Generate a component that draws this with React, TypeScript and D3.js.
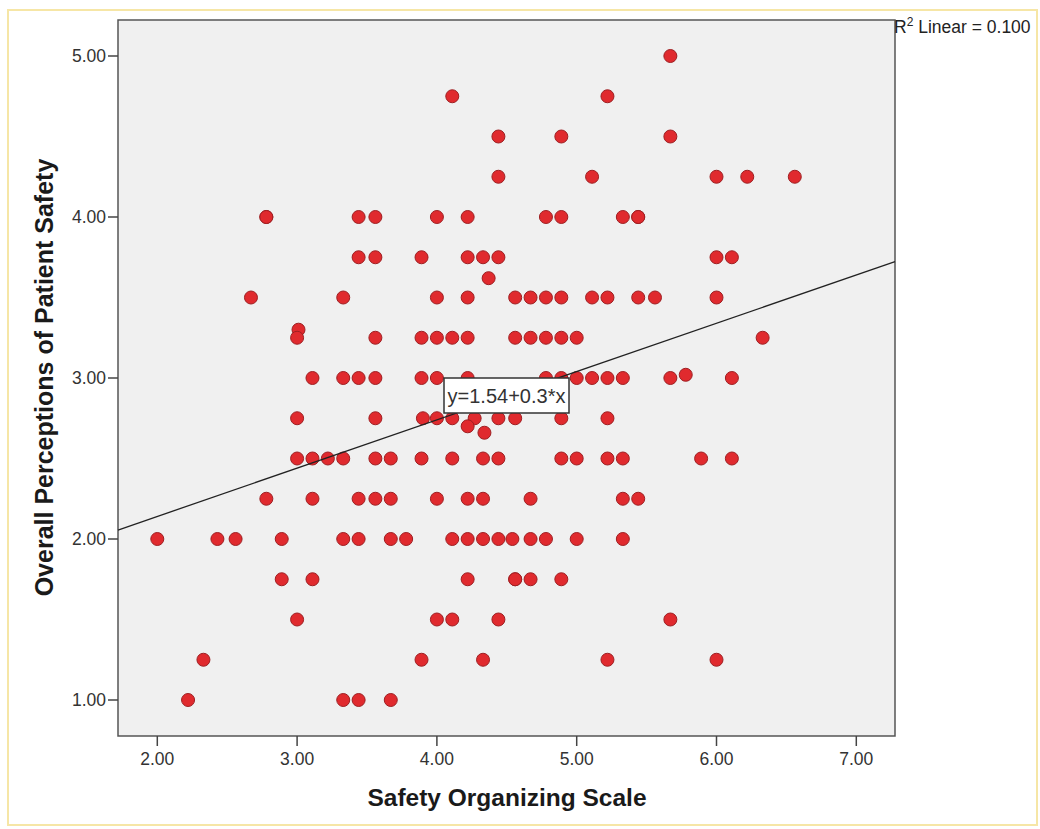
import React from "react";
import * as d3 from "d3";

// Rows of the scatter: y level and the x values observed at that level
const yLevels = [5.0, 4.75, 4.5, 4.25, 4.0, 3.75, 3.62, 3.5, 3.3, 3.25, 3.02, 3.0, 2.75, 2.7, 2.66, 2.5, 2.25, 2.0, 1.75, 1.5, 1.25, 1.0];
const xAt500 = [5.67];
const xAt475 = [4.11, 5.22];
const xAt450 = [4.44, 4.89, 5.67];
const xAt425 = [4.44, 5.11, 6.0, 6.22, 6.56];
const xAt400 = [2.78, 2.78, 3.44, 3.56, 4.0, 4.22, 4.78, 4.89, 5.33, 5.44, 5.44];
const xAt375 = [3.44, 3.56, 3.89, 4.22, 4.33, 4.44, 6.0, 6.11];
const xAt362 = [4.37];
const xAt350 = [2.67, 3.33, 4.0, 4.22, 4.56, 4.67, 4.78, 4.89, 5.11, 5.22, 5.44, 5.56, 6.0];
const xAt330 = [3.01];
const xAt325 = [3.0, 3.56, 3.89, 4.0, 4.11, 4.22, 4.56, 4.67, 4.78, 4.89, 5.0, 6.33];
const xAt302 = [5.78];
const xAt300 = [3.11, 3.33, 3.44, 3.56, 3.89, 4.0, 4.22, 4.78, 4.89, 5.0, 5.11, 5.22, 5.33, 5.67, 6.11];
const xAt275 = [3.0, 3.56, 3.9, 4.0, 4.11, 4.27, 4.44, 4.56, 4.89, 5.22];
const xAt270 = [4.22];
const xAt266 = [4.34];
const xAt250 = [3.0, 3.11, 3.22, 3.33, 3.56, 3.67, 3.89, 4.11, 4.33, 4.44, 4.89, 5.0, 5.22, 5.33, 5.89, 6.11];
const xAt225 = [2.78, 3.11, 3.44, 3.56, 3.67, 4.0, 4.22, 4.33, 4.67, 5.33, 5.44];
const xAt200 = [2.0, 2.43, 2.56, 2.89, 3.33, 3.44, 3.67, 3.78, 4.11, 4.22, 4.33, 4.44, 4.54, 4.67, 4.78, 5.0, 5.33];
const xAt175 = [2.89, 3.11, 4.22, 4.56, 4.56, 4.67, 4.89];
const xAt150 = [3.0, 4.0, 4.11, 4.44, 5.67];
const xAt125 = [2.33, 3.89, 4.33, 5.22, 6.0];
const xAt100 = [2.22, 3.33, 3.44, 3.67];
const rows = [xAt500, xAt475, xAt450, xAt425, xAt400, xAt375, xAt362, xAt350, xAt330, xAt325, xAt302, xAt300, xAt275, xAt270, xAt266, xAt250, xAt225, xAt200, xAt175, xAt150, xAt125, xAt100];

const xTicks = [2, 3, 4, 5, 6, 7];
const yTicks = [1, 2, 3, 4, 5];
const intercept = 1.54;
const slope = 0.3;
const equationLabel = "y=1.54+0.3*x";
const fitLabel = " Linear = 0.100";
const xTitle = "Safety Organizing Scale";
const yTitle = "Overall Perceptions of Patient Safety";

const W = 1040;
const H = 829;
const plotL = 118;
const plotR = 895;
const plotT = 20;
const plotB = 736;

export default function App() {
  const x = d3.scaleLinear().domain([2, 7]).range([157.3, 856.3]);
  const y = d3.scaleLinear().domain([1, 5]).range([700, 56]);
  const points = rows.flatMap((xs, i) => xs.map((v) => ({ x: v, y: yLevels[i] })));
  const x0 = x.invert(plotL);
  const x1 = x.invert(plotR);
  const line = d3.line<number>().x((v) => x(v)).y((v) => y(intercept + slope * v));
  const font = "'Liberation Sans', Arial, sans-serif";

  return (
    <svg width={W} height={H} style={{ position: "absolute", left: 0, top: 0, background: "#fff" }} fontFamily={font}>
      <rect x={8} y={10} width={1029} height={815} fill="#fff" stroke="#F6E6A6" strokeWidth={2} />
      <rect x={plotL} y={plotT} width={plotR - plotL} height={plotB - plotT} fill="#F0F0F0" stroke="#555" strokeWidth={1.5} />
      {yTicks.map((t) => (
        <g key={"y" + t}>
          <line x1={plotL - 10} x2={plotL} y1={y(t)} y2={y(t)} stroke="#444" strokeWidth={1.5} />
          <text x={plotL - 12} y={y(t)} dy="0.35em" textAnchor="end" fontSize={17.5} fill="#333">
            {t.toFixed(2)}
          </text>
        </g>
      ))}
      {xTicks.map((t) => (
        <g key={"x" + t}>
          <line x1={x(t)} x2={x(t)} y1={plotB} y2={plotB + 10} stroke="#444" strokeWidth={1.5} />
          <text x={x(t)} y={765} textAnchor="middle" fontSize={17.5} fill="#333">
            {t.toFixed(2)}
          </text>
        </g>
      ))}
      {points.map((p, i) => (
        <circle key={i} cx={x(p.x)} cy={y(p.y)} r={6.5} fill="#E02A2E" stroke="#9E1F22" strokeWidth={1} />
      ))}
      <path d={line([x0, x1]) || ""} fill="none" stroke="#222" strokeWidth={1.3} />
      <rect x={444} y={378} width={125} height={35} fill="#fff" stroke="#333" strokeWidth={1.5} />
      <text x={506.5} y={403} textAnchor="middle" fontSize={20} fill="#333">
        {equationLabel}
      </text>
      <text x={894} y={33} fontSize={17.5} fill="#222">
        R<tspan dy={-7} fontSize={12}>2</tspan>
        <tspan dy={7}>{fitLabel}</tspan>
      </text>
      <text x={507} y={806} textAnchor="middle" fontSize={24.5} fontWeight="bold" fill="#1a1a1a">
        {xTitle}
      </text>
      <text transform={`translate(53, 377.5) rotate(-90)`} textAnchor="middle" fontSize={25} fontWeight="bold" fill="#1a1a1a">
        {yTitle}
      </text>
    </svg>
  );
}
